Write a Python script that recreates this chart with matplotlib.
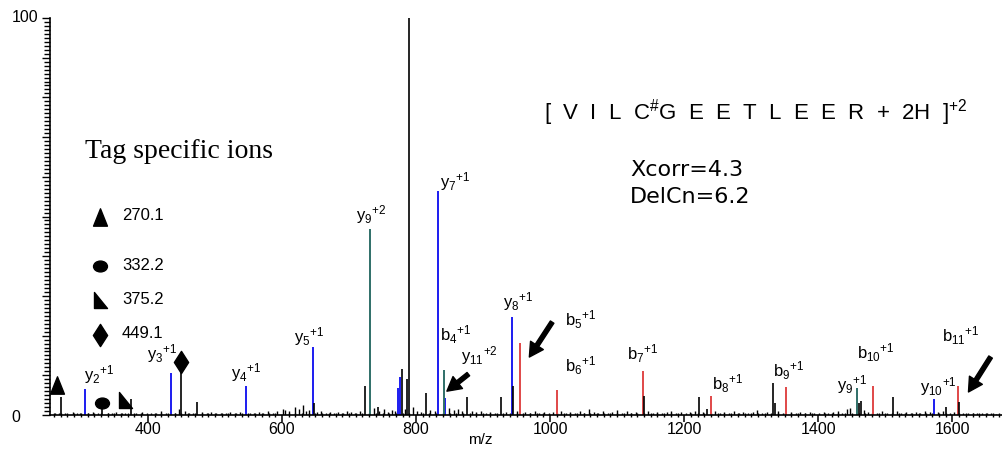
import matplotlib.pyplot as plt
from matplotlib.path import Path
from matplotlib.transforms import Affine2D
from matplotlib.ticker import MultipleLocator

plt.rcParams['font.family'] = 'Liberation Sans'
plt.rcParams['mathtext.fontset'] = 'custom'
plt.rcParams['mathtext.rm'] = 'Liberation Sans'
plt.rcParams['mathtext.it'] = 'Liberation Sans:italic'
plt.rcParams['mathtext.bf'] = 'Liberation Sans:bold'

# --- spectrum data (m/z, relative abundance) ---
noise_mz = [262, 268, 276, 289, 295, 299, 311, 318, 326, 341, 347, 353, 361, 366, 383, 391,
            398, 405, 412, 419, 427, 441, 446, 455, 461, 467, 481, 488, 494, 502, 509, 516,
            523, 531, 538, 553, 559, 566, 572, 579, 586, 593, 601, 605, 611, 619, 625, 631,
            636, 641, 652, 658, 665, 671, 678, 684, 691, 697, 703, 709, 716, 738, 745, 752,
            758, 764, 768, 783, 795, 801, 808, 821, 828, 849, 856, 862, 869, 883, 890, 897,
            904, 911, 918, 934, 951, 963, 970, 977, 984, 991, 998, 1005, 1016, 1023, 1030,
            1037, 1044, 1051, 1058, 1065, 1072, 1079, 1086, 1093, 1100, 1107, 1114, 1121,
            1128, 1146, 1153, 1160, 1167, 1174, 1181, 1188, 1195, 1202, 1209, 1216, 1228,
            1246, 1253, 1260, 1267, 1274, 1281, 1288, 1295, 1302, 1309, 1316, 1323, 1340,
            1347, 1359, 1366, 1373, 1380, 1387, 1394, 1401, 1408, 1415, 1422, 1429, 1436,
            1443, 1447, 1468, 1474, 1488, 1495, 1502, 1517, 1524, 1531, 1538, 1545, 1552,
            1559, 1566, 1579, 1586, 1597, 1603, 1616, 1623, 1630, 1637, 1644, 1651, 1658, 1665]
noise_int = [0.6, 0.4, 0.5, 0.8, 0.4, 0.6, 0.5, 0.7, 0.4, 0.6, 0.5, 0.8, 0.4, 0.6, 0.5, 0.7,
             0.4, 0.6, 0.5, 0.9, 0.4, 0.6, 1.4, 1.0, 0.6, 0.5, 0.7, 0.4, 0.8, 0.5, 0.6, 0.4,
             0.7, 0.5, 0.8, 0.6, 0.4, 0.7, 0.5, 0.9, 0.6, 1.0, 1.5, 1.2, 0.9, 2.0, 1.6, 2.5,
             1.0, 1.3, 0.8, 1.0, 0.6, 0.7, 0.5, 0.8, 0.6, 1.0, 0.7, 0.5, 1.1, 1.8, 0.9, 1.4,
             0.7, 1.2, 0.9, 1.5, 2.0, 1.0, 0.8, 1.3, 1.0, 1.8, 1.2, 1.4, 0.9, 1.0, 0.7, 1.1,
             0.6, 0.8, 0.5, 0.8, 0.9, 0.7, 0.5, 0.9, 0.6, 0.7, 0.5, 0.8, 1.0, 0.6, 0.8,
             0.5, 0.9, 0.6, 1.6, 0.7, 0.6, 1.0, 0.5, 0.8, 1.2, 0.6, 0.9, 0.5,
             0.8, 0.9, 0.6, 0.8, 0.5, 0.7, 0.9, 0.6, 0.8, 0.5, 0.7, 1.0, 0.8,
             0.9, 0.6, 0.8, 0.5, 0.9, 0.6, 0.7, 0.5, 0.8, 1.2, 0.6, 0.8, 0.9,
             0.6, 0.7, 0.5, 0.8, 0.6, 0.7, 0.5, 0.6, 0.8, 0.5, 0.7, 0.9, 0.6,
             1.4, 1.8, 1.2, 0.8, 0.6, 0.9, 0.5, 1.0, 0.6, 0.8, 0.5, 0.7, 0.6,
             1.0, 0.8, 0.7, 0.9, 0.6, 0.8, 0.5, 0.6, 0.4, 0.5, 0.4, 0.5, 0.4, 0.3]

# unassigned peaks
other_mz = [473, 648, 724, 743, 779, 787, 790, 815, 876, 927, 945, 1140, 1222, 1234,
            1333, 1335, 1460, 1463, 1512, 1591, 1610]
other_int = [3.3, 3.0, 7.3, 2.0, 11.6, 9.0, 100.0, 5.6, 4.5, 4.5, 7.3, 4.8, 4.5, 1.5,
             8.0, 3.0, 3.0, 3.5, 4.5, 2.0, 3.3]

# y ions, singly charged
y_mz = [306, 434, 546, 646, 773, 776, 833, 843, 943, 1572]
y_int = [6.5, 10.6, 7.3, 17.1, 6.8, 9.6, 56.4, 4.3, 24.7, 4.0]

# y ions marked in teal
y2_mz = [731, 842, 1458]
y2_int = [46.8, 11.3, 6.8]

# b ions
b_mz = [955, 1010, 1139, 1240, 1352, 1481, 1609]
b_int = [18.1, 6.3, 11.1, 4.8, 7.1, 7.3, 7.3]

# tag specific ions
tag_mz = [270.1, 332.2, 375.2, 449.1]
tag_int = [4.5, 3.8, 4.0, 14.0]
tag_labels = ['270.1', '332.2', '375.2', '449.1']

ion_labels = [('y', '2', '+1'), ('y', '3', '+1'), ('y', '4', '+1'), ('y', '5', '+1'),
              ('y', '9', '+2'), ('y', '7', '+1'), ('y', '8', '+1'), ('b', '4', '+1'),
              ('y', '11', '+2'), ('b', '5', '+1'), ('b', '6', '+1'), ('b', '7', '+1'),
              ('b', '8', '+1'), ('b', '9', '+1'), ('y', '9', '+1'), ('b', '10', '+1'),
              ('y', '10', '+1'), ('b', '11', '+1')]

# where each ion label sits (m/z, abundance of its baseline)
label_pos = [(304, 8.8), (398, 13.9), (524, 9.1), (618, 18.4), (710, 49.1), (836, 57.4),
             (930, 27.2), (836, 18.6), (867, 13.6), (1022, 22.4), (1022, 10.8),
             (1115, 13.9), (1242, 6.3), (1333, 9.6), (1428, 6.1), (1458, 14.1),
             (1551, 5.8), (1584, 18.4)]

BLUE = '#1c1cf0'
TEAL = '#2f6f68'
RED = '#e04848'

fig = plt.figure(figsize=(10.02, 4.49), dpi=100)
ax = fig.add_axes([50 / 1002, 34 / 449, 952 / 1002, 397 / 449])

ax.vlines(noise_mz, 0, noise_int, colors='black', lw=1.0)
ax.vlines(y_mz, 0, y_int, colors=BLUE, lw=1.4)
ax.vlines(y2_mz, 0, y2_int, colors=TEAL, lw=1.4)
ax.vlines(b_mz, 0, b_int, colors=RED, lw=1.4)
ax.vlines(other_mz, 0, other_int, colors='black', lw=1.2)
ax.vlines(tag_mz, 0, tag_int, colors='black', lw=1.2)

# marker shapes for the tag ions
tri = Path([(-0.4, -0.5), (0.4, -0.5), (0, 0.5), (-0.4, -0.5)], closed=True)
ell = Path.unit_circle().transformed(Affine2D().scale(1.0, 0.78))
rtri = Path([(-0.4, 0.5), (-0.4, -0.5), (0.42, -0.5), (-0.4, 0.5)], closed=True)
dia = Path([(0, 0.5), (0.32, 0), (0, -0.5), (-0.32, 0), (0, 0.5)], closed=True)
tag_markers = [(tri, 12.5), (ell, 10), (rtri, 11.5), (dia, 16)]
# marker offsets from the peak top (m/z, abundance)
tag_shift = [(-6, 3.1), (0, -0.8), (-9, -0.2), (0, -0.7)]

for mz, h, (m, s), (dx, dy) in zip(tag_mz, tag_int, tag_markers, tag_shift):
    ax.plot(mz + dx, h + dy, marker=m, ms=s, color='black', clip_on=False)

for (ion, sub, sup), (x, y) in zip(ion_labels, label_pos):
    ax.text(x, y, r'$\mathregular{%s_{%s}{}^{%s}}$' % (ion, sub, sup),
            fontsize=12, va='baseline', ha='left')

# arrows pointing at the weaker fragments
arrows = [((846, 6.0), (878, 10.3)), ((969, 14.6), (1003, 23.4)), ((1624, 5.8), (1657, 14.6))]
for tip, tail in arrows:
    ax.annotate('', xy=tip, xytext=tail,
                arrowprops=dict(facecolor='black', edgecolor='black', width=3,
                                headwidth=11, headlength=10))

ax.set_xlim(254, 1674)
ax.set_ylim(0, 100)
for s in ['top', 'right']:
    ax.spines[s].set_visible(False)
ax.spines['left'].set_linewidth(1.2)
ax.spines['bottom'].set_linewidth(1.2)

ax.xaxis.set_major_locator(MultipleLocator(200))
ax.xaxis.set_minor_locator(MultipleLocator(10))
ax.yaxis.set_major_locator(MultipleLocator(10))
ax.yaxis.set_minor_locator(MultipleLocator(1))
ax.tick_params(axis='x', which='major', length=5, width=1.1, labelsize=11.5, pad=0)
ax.tick_params(axis='x', which='minor', length=3, width=1.0, direction='inout')
ax.tick_params(axis='y', which='major', length=6, width=1.0, labelleft=False)
ax.tick_params(axis='y', which='minor', length=4, width=1.0)

fig.text(480 / 1002, 1 - 440 / 449, 'm/z', fontsize=11, ha='center', va='center')
fig.text(38 / 1002, 1 - 18 / 449, '100', fontsize=11.5, ha='right', va='center')
fig.text(16 / 1002, 1 - 418 / 449, '0', fontsize=11.5, ha='center', va='center')

# peptide and search scores
fig.text(544 / 1002, 1 - 113 / 449,
         r'[  V  I  L  C$^{\#}$G  E  E  T  L  E  E  R  +  2H  ]$^{+2}$',
         fontsize=16, ha='left', va='center')
fig.text(630 / 1002, 1 - 170 / 449, 'Xcorr=4.3', family='DejaVu Sans',
         fontsize=16, ha='left', va='center')
fig.text(630 / 1002, 1 - 197 / 449, 'DelCn=6.2', family='DejaVu Sans',
         fontsize=16, ha='left', va='center')

# tag ion key
fig.text(85 / 1002, 1 - 152 / 449, 'Tag specific ions', family='Liberation Serif',
         fontsize=20, ha='left', va='center')
key_y = [217, 266, 300, 335]
for (m, s), lab, py in zip(tag_markers, tag_labels, key_y):
    fig.lines.append(plt.Line2D([100 / 1002], [1 - py / 449], marker=m, ms=s,
                                color='black', transform=fig.transFigure))
    fig.text(122 / 1002, 1 - (py - 1) / 449, lab, fontsize=12, ha='left', va='center')

fig.savefig('out.png', dpi=100)
